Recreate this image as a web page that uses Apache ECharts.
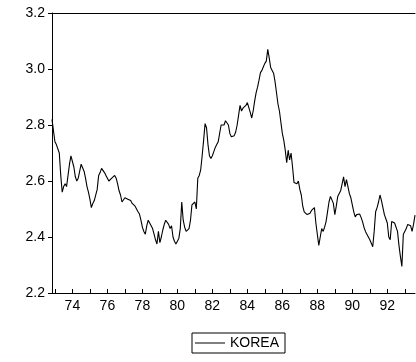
<!DOCTYPE html>
<html>
<head>
<meta charset="utf-8">
<script src="https://cdn.jsdelivr.net/npm/echarts@6/dist/echarts.min.js"></script>
<style>
html,body{margin:0;padding:0;background:#fff;}
#chart{width:416px;height:362px;}
</style>
</head>
<body>
<div id="chart"></div>
<script>
// Monthly series, first observation 1972:11
var startYear = 1972;
var startMonth = 11;
var seriesName = "KOREA";
var korea = [
2.82,2.78,2.74,2.73,2.725,2.70,2.62,2.56,2.58,2.59,
2.58,2.62,2.66,2.69,2.685,2.65,2.615,2.60,2.61,2.635,
2.66,2.655,2.635,2.61,2.58,2.56,2.535,2.505,2.52,2.53,
2.53,2.57,2.62,2.63,2.645,2.64,2.63,2.62,2.61,2.60,
2.60,2.61,2.615,2.62,2.61,2.59,2.565,2.55,2.525,2.52,
2.54,2.535,2.535,2.53,2.53,2.52,2.518,2.51,2.50,2.49,
2.482,2.46,2.435,2.42,2.41,2.44,2.46,2.45,2.445,2.43,
2.41,2.39,2.375,2.42,2.38,2.40,2.425,2.445,2.46,2.465,
2.445,2.43,2.44,2.40,2.385,2.375,2.38,2.395,2.43,2.525,
2.46,2.435,2.42,2.42,2.43,2.46,2.515,2.52,2.525,2.50,
2.61,2.62,2.64,2.69,2.745,2.805,2.79,2.73,2.69,2.68,
2.69,2.705,2.72,2.73,2.74,2.77,2.80,2.795,2.80,2.815,
2.82,2.80,2.77,2.758,2.76,2.762,2.775,2.80,2.835,2.87,
2.85,2.86,2.863,2.87,2.88,2.875,2.845,2.825,2.85,2.885,
2.915,2.935,2.96,2.987,2.995,3.008,3.02,3.028,3.07,3.04,
3.005,2.995,2.985,2.955,2.915,2.875,2.85,2.81,2.77,2.745,
2.71,2.665,2.71,2.675,2.70,2.65,2.595,2.588,2.59,2.60,
2.57,2.55,2.51,2.49,2.488,2.48,2.475,2.485,2.495,2.50,
2.505,2.45,2.41,2.37,2.40,2.43,2.42,2.435,2.455,2.49,
2.525,2.545,2.545,2.52,2.48,2.51,2.545,2.555,2.565,2.59,
2.615,2.58,2.605,2.605,2.555,2.54,2.515,2.49,2.472,2.48,
2.486,2.482,2.47,2.455,2.435,2.42,2.41,2.40,2.39,2.378,
2.365,2.42,2.49,2.505,2.525,2.55,2.53,2.505,2.48,2.465,
2.45,2.40,2.39,2.455,2.46,2.45,2.45,2.42,2.37,2.33,
2.295,2.41,2.42,2.43,2.445,2.45,2.44,2.42,2.445,2.478
];
var yTicks = ["2.2","2.4","2.6","2.8","3.0","3.2"];
var xTickLabels = ["74","76","78","80","82","84","86","88","90","92"];

var months = [];
var y = startYear, m = startMonth;
for (var i = 0; i < korea.length; i++) {
  months.push(y + "-" + (m < 10 ? "0" + m : m));
  m++; if (m > 12) { m = 1; y++; }
}
function isJan(idx){ return months[idx].slice(5) === "01"; }
function labelFor(idx){
  var yy = months[idx].slice(2,4);
  return (isJan(idx) && xTickLabels.indexOf(yy) >= 0) ? yy : null;
}

var chart = echarts.init(document.getElementById('chart'), null, {renderer:'canvas'});
var font = "Liberation Sans, Arial, sans-serif";
chart.setOption({
  animation:false,
  backgroundColor:'#fff',
  grid:{left:52, top:13, right:1, bottom:69, containLabel:false},
  xAxis:[{
    type:'category', data:months, boundaryGap:false,
    axisLine:{lineStyle:{color:'#000', width:1}},
    axisTick:{inside:true, length:4, lineStyle:{color:'#000'},
      interval:function(idx){ return isJan(idx); }},
    axisLabel:{color:'#000', fontFamily:font, fontSize:14, margin:6,
      interval:function(idx){ return labelFor(idx) !== null; },
      formatter:function(v, idx){ var l = labelFor(idx); return l === null ? '' : l; }},
    splitLine:{show:false}
  },{
    type:'category', data:months, boundaryGap:false, position:'top',
    axisLine:{lineStyle:{color:'#000', width:1}},
    axisTick:{show:false}, axisLabel:{show:false}, splitLine:{show:false}
  }],
  yAxis:{
    type:'value', min:2.2, max:3.2, interval:0.2,
    axisLine:{show:true, lineStyle:{color:'#000', width:1}},
    axisTick:{show:true, length:4, lineStyle:{color:'#000'}},
    axisLabel:{color:'#000', fontFamily:font, fontSize:14, margin:7,
      formatter:function(v){ return v.toFixed(1); }},
    splitLine:{show:false}
  },
  legend:{
    left:192, top:333, orient:'horizontal',
    data:[{name:seriesName, icon:'rect'}],
    itemWidth:30, itemHeight:1, itemGap:5,
    borderColor:'#000', borderWidth:1, borderRadius:0,
    padding:[3,6,3,3],
    textStyle:{color:'#000', fontFamily:font, fontSize:14}
  },
  series:[{
    name:seriesName, type:'line', data:korea, xAxisIndex:0,
    symbol:'none', smooth:false,
    lineStyle:{color:'#000', width:1.1},
    itemStyle:{color:'#000'}
  }]
});
</script>
</body>
</html>
